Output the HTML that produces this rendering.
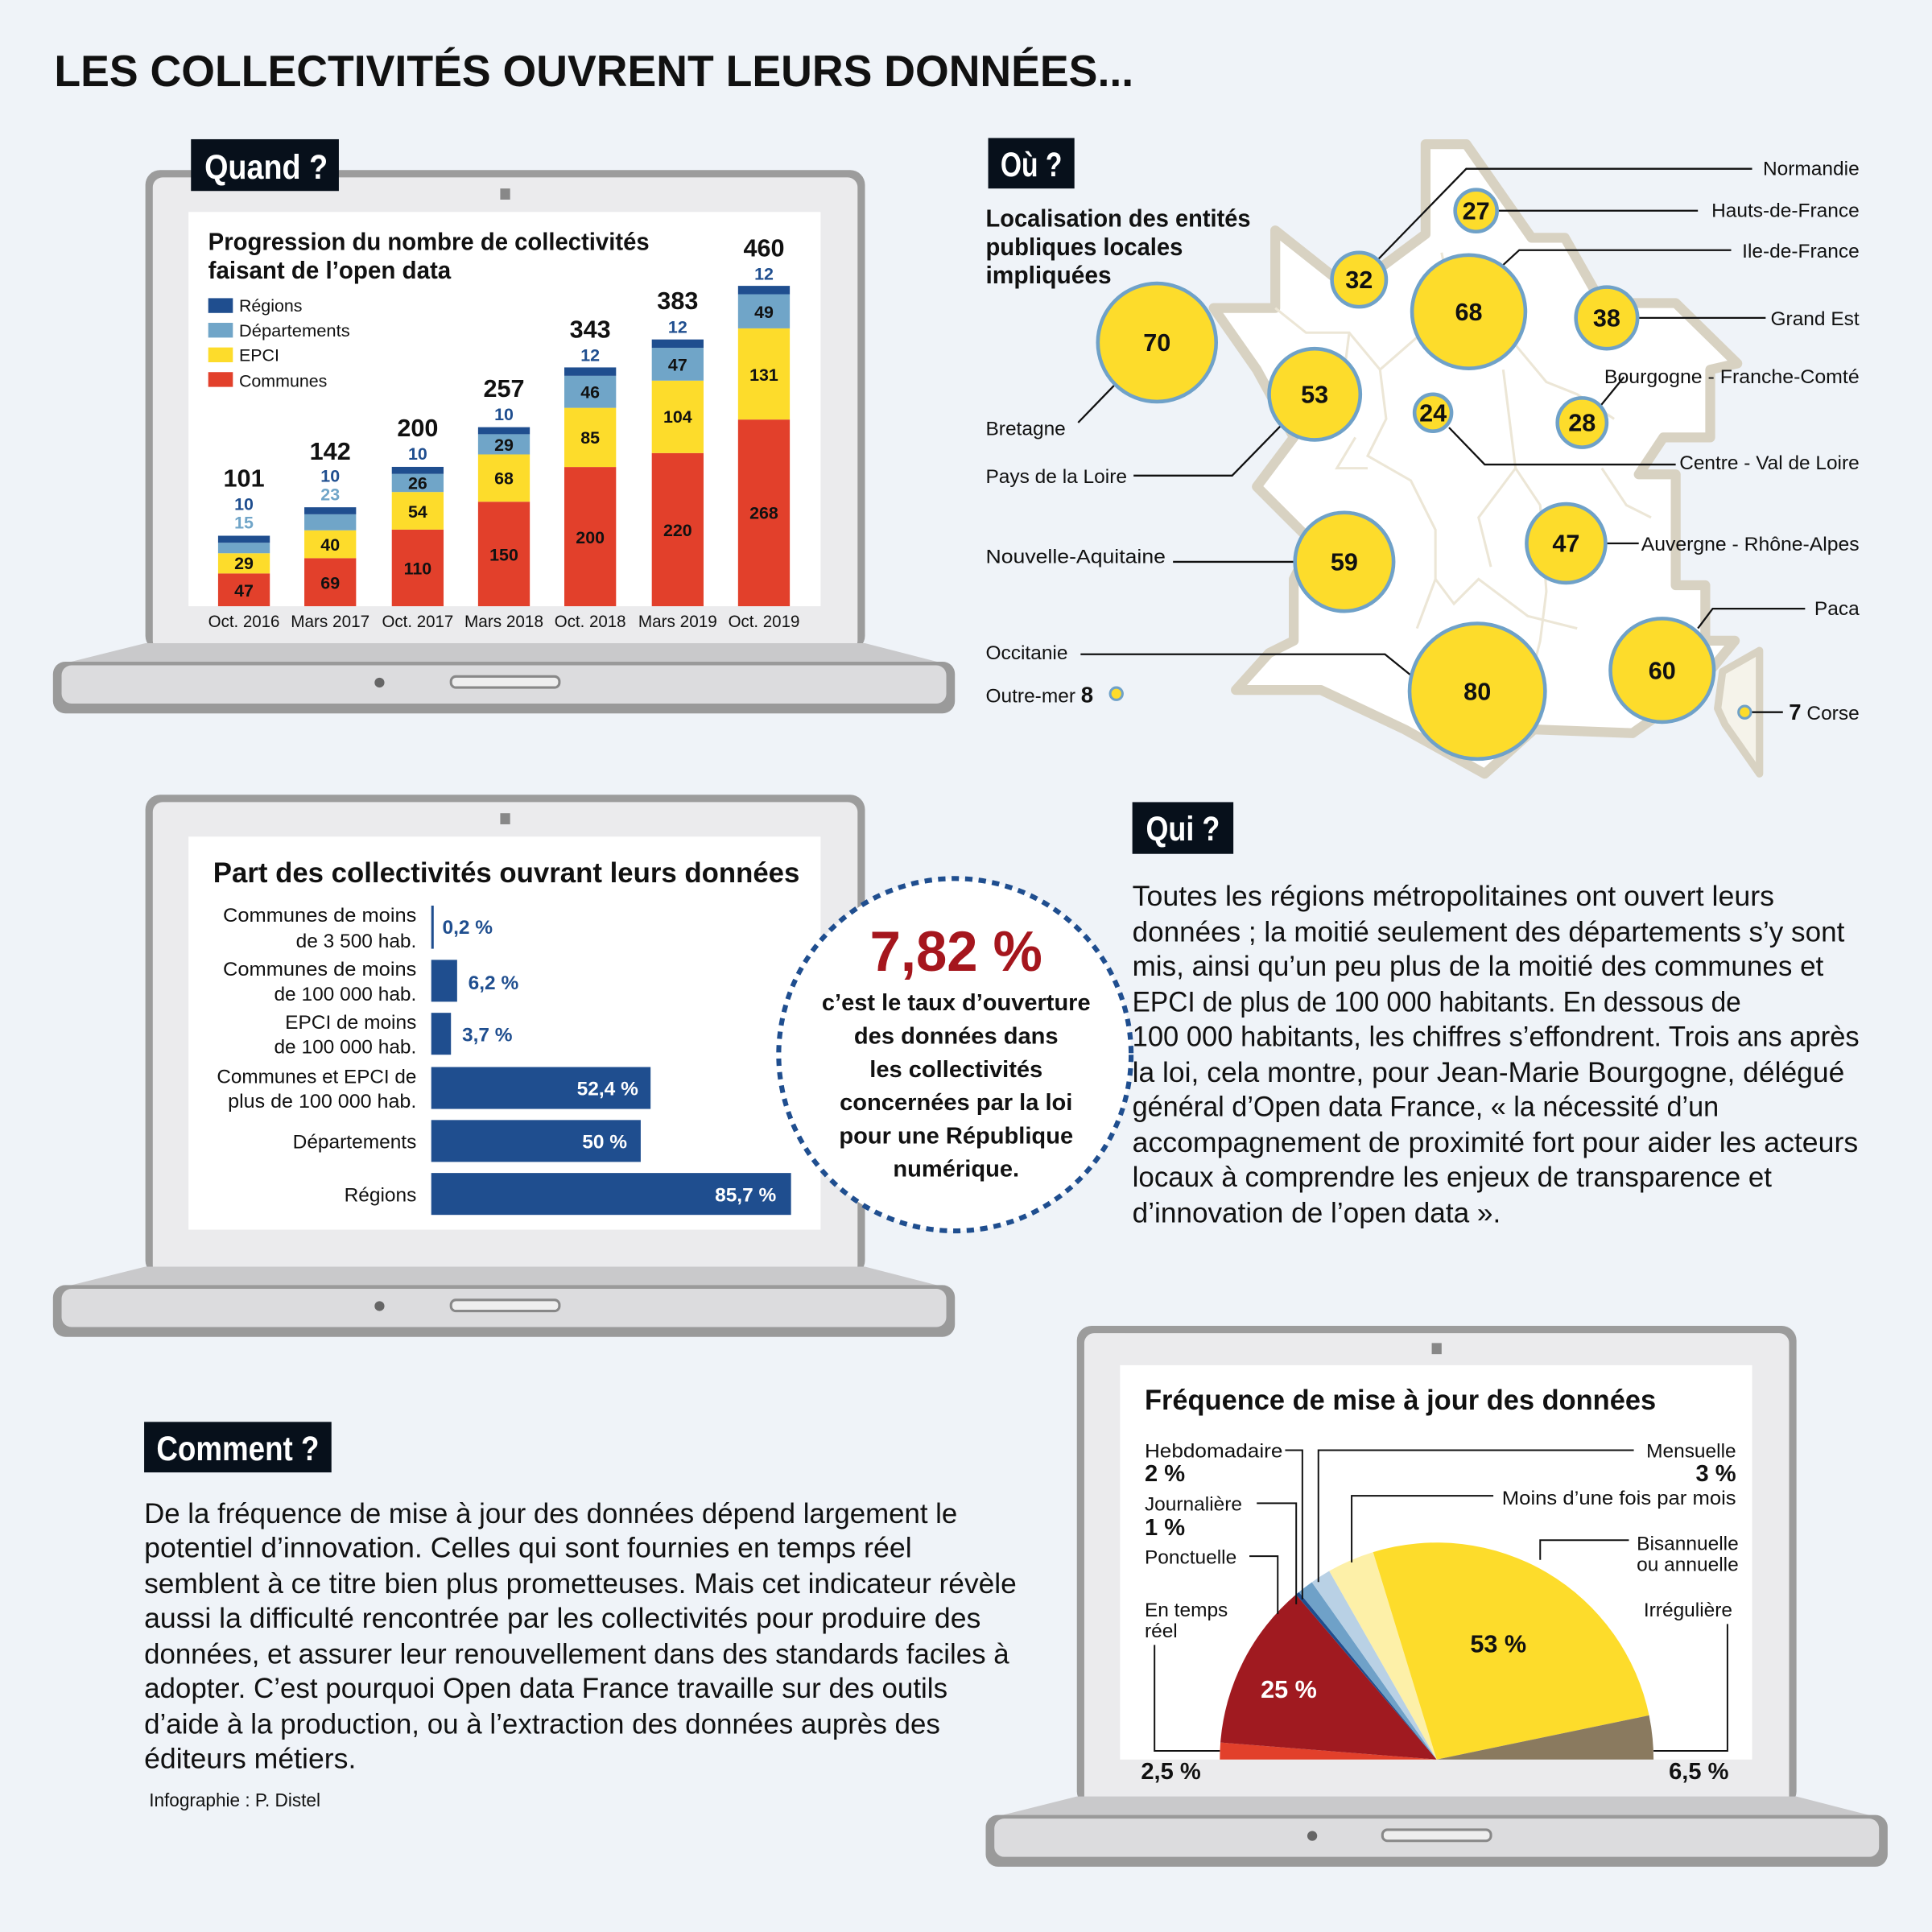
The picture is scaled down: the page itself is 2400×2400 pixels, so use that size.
<!DOCTYPE html>
<html><head><meta charset="utf-8"><style>
html,body{margin:0;padding:0;background:#eff3f8;}
svg{display:block;}
text{font-family:"Liberation Sans Narrow","Liberation Sans",sans-serif;}
.b{font-weight:bold;}
</style></head><body>
<svg width="2400" height="2400" viewBox="0 0 1568 1568" xmlns="http://www.w3.org/2000/svg">
<rect width="1568" height="1568" fill="#eff3f8"/>
<text x="44" y="70" font-size="36" class="b" fill="#111" font-family="Liberation Sans" textLength="876" lengthAdjust="spacingAndGlyphs">LES COLLECTIVITÉS OUVRENT LEURS DONNÉES...</text>

<!-- Laptop 1 -->
<rect x="118" y="138" width="584" height="390" rx="12" fill="#9c9c9c"/>
<rect x="124" y="144" width="572" height="384" rx="8" fill="#ebebed"/>
<rect x="406" y="153" width="8" height="9" fill="#888"/>
<rect x="153" y="172" width="513" height="320" fill="#fff"/>
<polygon points="118,522 702,522 772,540 46,540" fill="#c9c9cb"/>
<rect x="43" y="537" width="732" height="42" rx="10" fill="#9a9a9a"/>
<rect x="50" y="540" width="718" height="31" rx="8" fill="#dcdcde"/>
<circle cx="308" cy="554" r="4" fill="#666"/>
<rect x="366" y="549" width="88" height="9" rx="4" fill="#eee" stroke="#888" stroke-width="2"/>
<rect x="155" y="113" width="120" height="42" fill="#07101b"/>
<text x="166" y="145" font-size="28" class="b" fill="#fff" textLength="100" lengthAdjust="spacingAndGlyphs">Quand ?</text>

<text x="169" y="203" font-size="20" class="b" fill="#111" textLength="358" lengthAdjust="spacingAndGlyphs">Progression du nombre de collectivités</text>
<text x="169" y="226" font-size="20" class="b" fill="#111" textLength="197" lengthAdjust="spacingAndGlyphs">faisant de l’open data</text>
<g font-size="14" fill="#111">
<rect x="169" y="242" width="20" height="12" fill="#1f4e8f"/><text x="194" y="253">Régions</text>
<rect x="169" y="262" width="20" height="12" fill="#70a5c8"/><text x="194" y="273" textLength="90" lengthAdjust="spacingAndGlyphs">Départements</text>
<rect x="169" y="282" width="20" height="12" fill="#fddc2b"/><text x="194" y="293">EPCI</text>
<rect x="169" y="302" width="20" height="12" fill="#e2402b"/><text x="194" y="314">Communes</text>
</g>
<g>
<rect x="177" y="465.4" width="42" height="26.6" fill="#e2402b"/><rect x="177" y="449" width="42" height="16.4" fill="#fddc2b"/><rect x="177" y="440.5" width="42" height="8.5" fill="#70a5c8"/><rect x="177" y="434.8" width="42" height="5.7" fill="#1f4e8f"/>
<rect x="247" y="453" width="42" height="39" fill="#e2402b"/><rect x="247" y="430.4" width="42" height="22.6" fill="#fddc2b"/><rect x="247" y="417.4" width="42" height="13" fill="#70a5c8"/><rect x="247" y="411.7" width="42" height="5.7" fill="#1f4e8f"/>
<rect x="318" y="429.8" width="42" height="62.2" fill="#e2402b"/><rect x="318" y="399.3" width="42" height="30.5" fill="#fddc2b"/><rect x="318" y="384.6" width="42" height="14.7" fill="#70a5c8"/><rect x="318" y="378.9" width="42" height="5.7" fill="#1f4e8f"/>
<rect x="388" y="407.2" width="42" height="84.8" fill="#e2402b"/><rect x="388" y="368.8" width="42" height="38.4" fill="#fddc2b"/><rect x="388" y="352.4" width="42" height="16.4" fill="#70a5c8"/><rect x="388" y="346.7" width="42" height="5.7" fill="#1f4e8f"/>
<rect x="458" y="379" width="42" height="113" fill="#e2402b"/><rect x="458" y="331" width="42" height="48" fill="#fddc2b"/><rect x="458" y="305" width="42" height="26" fill="#70a5c8"/><rect x="458" y="298.2" width="42" height="6.8" fill="#1f4e8f"/>
<rect x="529" y="367.7" width="42" height="124.3" fill="#e2402b"/><rect x="529" y="308.9" width="42" height="58.8" fill="#fddc2b"/><rect x="529" y="282.3" width="42" height="26.6" fill="#70a5c8"/><rect x="529" y="275.5" width="42" height="6.8" fill="#1f4e8f"/>
<rect x="599" y="340.5" width="42" height="151.5" fill="#e2402b"/><rect x="599" y="266.5" width="42" height="74" fill="#fddc2b"/><rect x="599" y="238.8" width="42" height="27.7" fill="#70a5c8"/><rect x="599" y="232" width="42" height="6.8" fill="#1f4e8f"/>
</g>
<g font-size="14" class="b" text-anchor="middle" fill="#111">
<text x="198" y="484">47</text><text x="198" y="462">29</text>
<text x="268" y="478">69</text><text x="268" y="447">40</text>
<text x="339" y="466">110</text><text x="339" y="420">54</text><text x="339" y="397">26</text>
<text x="409" y="455">150</text><text x="409" y="393">68</text><text x="409" y="366">29</text>
<text x="479" y="441">200</text><text x="479" y="360">85</text><text x="479" y="323">46</text>
<text x="550" y="435">220</text><text x="550" y="343">104</text><text x="550" y="301">47</text>
<text x="620" y="421">268</text><text x="620" y="309">131</text><text x="620" y="258">49</text>
</g>
<g font-size="14" class="b" text-anchor="middle" fill="#1f4e8f">
<text x="198" y="414">10</text><text x="198" y="429" fill="#70a5c8">15</text>
<text x="268" y="391">10</text><text x="268" y="406" fill="#70a5c8">23</text>
<text x="339" y="373">10</text><text x="409" y="341">10</text><text x="479" y="293">12</text><text x="550" y="270">12</text><text x="620" y="227">12</text>
</g>
<g font-size="20" class="b" text-anchor="middle" fill="#111">
<text x="198" y="395">101</text><text x="268" y="373">142</text><text x="339" y="354">200</text><text x="409" y="322">257</text><text x="479" y="274">343</text><text x="550" y="251">383</text><text x="620" y="208">460</text>
</g>
<g font-size="14" text-anchor="middle" fill="#111">
<text x="198" y="509" textLength="58" lengthAdjust="spacingAndGlyphs">Oct. 2016</text><text x="268" y="509" textLength="64" lengthAdjust="spacingAndGlyphs">Mars 2017</text><text x="339" y="509" textLength="58" lengthAdjust="spacingAndGlyphs">Oct. 2017</text><text x="409" y="509" textLength="64" lengthAdjust="spacingAndGlyphs">Mars 2018</text><text x="479" y="509" textLength="58" lengthAdjust="spacingAndGlyphs">Oct. 2018</text><text x="550" y="509" textLength="64" lengthAdjust="spacingAndGlyphs">Mars 2019</text><text x="620" y="509" textLength="58" lengthAdjust="spacingAndGlyphs">Oct. 2019</text>
</g>

<!-- Map -->
<polygon points="1157,117 1190,117 1243,193 1270,193 1300,246 1360,246 1410,295 1388,300 1388,355 1350,355 1330,385 1360,385 1360,475 1384,475 1384,520 1408,520 1375,560 1325,595 1245,592 1205,628 1140,592 1072,560 1003,560 1030,530 1050,520 1050,470 1065,440 1020,395 1050,355 1020,300 985,250 1035,250 1035,187 1083,225 1110,225 1157,190" fill="#fff" stroke="#d8d2c2" stroke-width="8" stroke-linejoin="round"/>
<g fill="none" stroke="#ece6d6" stroke-width="2">
<path d="M1035,250 L1060,270 L1095,270 L1120,300 L1125,340 L1110,370 L1145,390 L1165,430 L1165,470 L1150,510"/>
<path d="M1120,300 L1160,265 L1175,230 L1170,205"/>
<path d="M1230,280 L1255,310 L1280,320 L1310,340"/>
<path d="M1220,300 L1230,380 L1250,410 L1255,480 L1250,520 L1240,560"/>
<path d="M1095,270 L1090,310 M1100,355 L1085,380 L1110,380 M1165,470 L1180,490 L1200,470 L1240,500 L1280,510"/>
<path d="M1230,380 L1200,420 L1210,460 M1300,380 L1320,410 L1340,420"/>
</g>
<polygon points="1398,545 1428,528 1428,628 1400,588 1394,575" fill="#f5f3ea" stroke="#d8d2c2" stroke-width="6" stroke-linejoin="round"/>

<g fill="none" stroke="#111" stroke-width="1.5">
<polyline points="1117,212 1190,137 1422,137"/>
<polyline points="1216,171 1378,171"/>
<polyline points="1220,215 1233,203 1405,203"/>
<polyline points="1330,258 1433,258"/>
<polyline points="1296,333 1318,306"/>
<polyline points="1176,347 1205,377 1360,377"/>
<polyline points="1303,441 1330,441"/>
<polyline points="1378,510 1390,494 1465,494"/>
<polyline points="1421,578 1447,578"/>
<polyline points="875,343 905,312"/>
<polyline points="920,386 1000,386 1040,345"/>
<polyline points="952,456 1050,456"/>
<polyline points="877,531 1124,531 1145,548"/>
</g>
<g fill="#fddc2b" stroke="#6fa1c8" stroke-width="3">
<circle cx="1198" cy="171" r="17"/><circle cx="1103" cy="227" r="22"/><circle cx="1192" cy="253" r="46"/><circle cx="1304" cy="258" r="25"/>
<circle cx="939" cy="278" r="48"/><circle cx="1067" cy="320" r="37"/><circle cx="1163" cy="335" r="15"/><circle cx="1284" cy="343" r="20"/>
<circle cx="1271" cy="441" r="32"/><circle cx="1091" cy="456" r="40"/><circle cx="1199" cy="561" r="55"/><circle cx="1349" cy="544" r="42"/>
<circle cx="906" cy="563" r="5" stroke-width="2"/><circle cx="1416" cy="578" r="5" stroke-width="2"/>
</g>
<g font-size="20" class="b" text-anchor="middle" fill="#111">
<text x="1198" y="178">27</text><text x="1103" y="234">32</text><text x="1192" y="260">68</text><text x="1304" y="265">38</text>
<text x="939" y="285">70</text><text x="1067" y="327">53</text><text x="1163" y="342">24</text><text x="1284" y="350">28</text>
<text x="1271" y="448">47</text><text x="1091" y="463">59</text><text x="1199" y="568">80</text><text x="1349" y="551">60</text>
</g>
<g font-size="16" fill="#111" text-anchor="end">
<text x="1509" y="142">Normandie</text><text x="1509" y="176">Hauts-de-France</text><text x="1509" y="209">Ile-de-France</text><text x="1509" y="264">Grand Est</text><text x="1509" y="311" textLength="207" lengthAdjust="spacingAndGlyphs">Bourgogne - Franche-Comté</text><text x="1509" y="381" textLength="146" lengthAdjust="spacingAndGlyphs">Centre - Val de Loire</text><text x="1509" y="447" textLength="177" lengthAdjust="spacingAndGlyphs">Auvergne - Rhône-Alpes</text><text x="1509" y="499">Paca</text>
<text x="1509" y="584"><tspan class="b" font-size="18">7</tspan> Corse</text>
</g>
<g font-size="16" fill="#111">
<text x="800" y="353">Bretagne</text><text x="800" y="392">Pays de la Loire</text><text x="800" y="457" textLength="146" lengthAdjust="spacingAndGlyphs">Nouvelle-Aquitaine</text><text x="800" y="535">Occitanie</text>
<text x="800" y="570">Outre-mer <tspan class="b" font-size="18">8</tspan></text>
</g>
<rect x="802" y="112" width="70" height="41" fill="#07101b"/>
<text x="812" y="143" font-size="28" class="b" fill="#fff" textLength="50" lengthAdjust="spacingAndGlyphs">Où ?</text>
<g font-size="20" class="b" fill="#111"><text x="800" y="184" textLength="215" lengthAdjust="spacingAndGlyphs">Localisation des entités</text><text x="800" y="207" textLength="160" lengthAdjust="spacingAndGlyphs">publiques locales</text><text x="800" y="230" textLength="102" lengthAdjust="spacingAndGlyphs">impliquées</text></g>

<!-- Laptop 2 -->
<rect x="118" y="645" width="584" height="390" rx="12" fill="#9c9c9c"/>
<rect x="124" y="651" width="572" height="384" rx="8" fill="#ebebed"/>
<rect x="406" y="660" width="8" height="9" fill="#888"/>
<rect x="153" y="679" width="513" height="319" fill="#fff"/>
<polygon points="118,1028 702,1028 772,1046 46,1046" fill="#c9c9cb"/>
<rect x="43" y="1043" width="732" height="42" rx="10" fill="#9a9a9a"/>
<rect x="50" y="1046" width="718" height="31" rx="8" fill="#dcdcde"/>
<circle cx="308" cy="1060" r="4" fill="#666"/>
<rect x="366" y="1055" width="88" height="9" rx="4" fill="#eee" stroke="#888" stroke-width="2"/>
<text x="173" y="716" font-size="23" class="b" fill="#111" textLength="476" lengthAdjust="spacingAndGlyphs">Part des collectivités ouvrant leurs données</text>
<g fill="#1f4e8f">
<rect x="350" y="735" width="2" height="35"/><rect x="350" y="779" width="21" height="34"/><rect x="350" y="822" width="16" height="34"/>
<rect x="350" y="866" width="178" height="34"/><rect x="350" y="909" width="170" height="34"/><rect x="350" y="952" width="292" height="34"/>
</g>
<g font-size="16" fill="#111" text-anchor="end">
<text x="338" y="748" textLength="157" lengthAdjust="spacingAndGlyphs">Communes de moins</text><text x="338" y="769">de 3 500 hab.</text>
<text x="338" y="792" textLength="157" lengthAdjust="spacingAndGlyphs">Communes de moins</text><text x="338" y="812">de 100 000 hab.</text>
<text x="338" y="835">EPCI de moins</text><text x="338" y="855">de 100 000 hab.</text>
<text x="338" y="879" textLength="162" lengthAdjust="spacingAndGlyphs">Communes et EPCI de</text><text x="338" y="899" textLength="153" lengthAdjust="spacingAndGlyphs">plus de 100 000 hab.</text>
<text x="338" y="932">Départements</text><text x="338" y="975">Régions</text>
</g>
<g font-size="16" class="b" fill="#1f4e8f">
<text x="359" y="758">0,2 %</text><text x="380" y="803">6,2 %</text><text x="375" y="845">3,7 %</text>
</g>
<g font-size="16" class="b" fill="#fff" text-anchor="end">
<text x="518" y="889">52,4 %</text><text x="509" y="932">50 %</text><text x="630" y="975">85,7 %</text>
</g>
<circle cx="775" cy="856" r="143" fill="#fff" stroke="#1f4e8f" stroke-width="4" stroke-dasharray="6 5"/>
<text x="776" y="788" font-size="46" class="b" fill="#a5161d" text-anchor="middle" textLength="140" lengthAdjust="spacingAndGlyphs">7,82 %</text>
<g font-size="19" class="b" fill="#111" text-anchor="middle">
<text x="776" y="820" textLength="218" lengthAdjust="spacingAndGlyphs">c’est le taux d’ouverture</text><text x="776" y="847">des données dans</text><text x="776" y="874">les collectivités</text><text x="776" y="901">concernées par la loi</text><text x="776" y="928">pour une République</text><text x="776" y="955">numérique.</text>
</g>

<!-- Qui -->
<rect x="919" y="651" width="82" height="42" fill="#07101b"/>
<text x="930" y="682" font-size="28" class="b" fill="#fff" textLength="60" lengthAdjust="spacingAndGlyphs">Qui ?</text>
<g font-size="23" fill="#111" lengthAdjust="spacingAndGlyphs">
<text x="919" y="735" textLength="521" lengthAdjust="spacingAndGlyphs">Toutes les régions métropolitaines ont ouvert leurs</text>
<text x="919" y="764" textLength="578" lengthAdjust="spacingAndGlyphs">données ; la moitié seulement des départements s’y sont</text>
<text x="919" y="792" textLength="561" lengthAdjust="spacingAndGlyphs">mis, ainsi qu’un peu plus de la moitié des communes et</text>
<text x="919" y="821" textLength="494" lengthAdjust="spacingAndGlyphs">EPCI de plus de 100 000 habitants. En dessous de</text>
<text x="919" y="849" textLength="590" lengthAdjust="spacingAndGlyphs">100 000 habitants, les chiffres s’effondrent. Trois ans après</text>
<text x="919" y="878" textLength="578" lengthAdjust="spacingAndGlyphs">la loi, cela montre, pour Jean-Marie Bourgogne, délégué</text>
<text x="919" y="906" textLength="476" lengthAdjust="spacingAndGlyphs">général d’Open data France, « la nécessité d’un</text>
<text x="919" y="935" textLength="589" lengthAdjust="spacingAndGlyphs">accompagnement de proximité fort pour aider les acteurs</text>
<text x="919" y="963" textLength="519" lengthAdjust="spacingAndGlyphs">locaux à comprendre les enjeux de transparence et</text>
<text x="919" y="992" textLength="299" lengthAdjust="spacingAndGlyphs">d’innovation de l’open data ».</text>
</g>

<!-- Comment -->
<rect x="117" y="1154" width="152" height="41" fill="#07101b"/>
<text x="127" y="1185" font-size="28" class="b" fill="#fff" textLength="132" lengthAdjust="spacingAndGlyphs">Comment ?</text>
<g font-size="23" fill="#111">
<text x="117" y="1236" textLength="660" lengthAdjust="spacingAndGlyphs">De la fréquence de mise à jour des données dépend largement le</text>
<text x="117" y="1264" textLength="623" lengthAdjust="spacingAndGlyphs">potentiel d’innovation. Celles qui sont fournies en temps réel</text>
<text x="117" y="1293" textLength="708" lengthAdjust="spacingAndGlyphs">semblent à ce titre bien plus prometteuses. Mais cet indicateur révèle</text>
<text x="117" y="1321" textLength="679" lengthAdjust="spacingAndGlyphs">aussi la difficulté rencontrée par les collectivités pour produire des</text>
<text x="117" y="1350" textLength="702" lengthAdjust="spacingAndGlyphs">données, et assurer leur renouvellement dans des standards faciles à</text>
<text x="117" y="1378" textLength="652" lengthAdjust="spacingAndGlyphs">adopter. C’est pourquoi Open data France travaille sur des outils</text>
<text x="117" y="1407" textLength="646" lengthAdjust="spacingAndGlyphs">d’aide à la production, ou à l’extraction des données auprès des</text>
<text x="117" y="1435" textLength="172" lengthAdjust="spacingAndGlyphs">éditeurs métiers.</text>
</g>
<text x="121" y="1466" font-size="15" fill="#111" textLength="139" lengthAdjust="spacingAndGlyphs">Infographie : P. Distel</text>

<!-- Laptop 3 -->
<rect x="874" y="1076" width="584" height="390" rx="12" fill="#9c9c9c"/>
<rect x="880" y="1082" width="572" height="384" rx="8" fill="#ebebed"/>
<rect x="1162" y="1090" width="8" height="9" fill="#888"/>
<rect x="909" y="1108" width="513" height="320" fill="#fff"/>
<polygon points="874,1458 1458,1458 1528,1476 802,1476" fill="#c9c9cb"/>
<rect x="800" y="1473" width="732" height="42" rx="10" fill="#9a9a9a"/>
<rect x="807" y="1476" width="718" height="31" rx="8" fill="#dcdcde"/>
<circle cx="1065" cy="1490" r="4" fill="#666"/>
<rect x="1122" y="1485" width="88" height="9" rx="4" fill="#eee" stroke="#888" stroke-width="2"/>
<text x="929" y="1144" font-size="23" class="b" fill="#111" textLength="415" lengthAdjust="spacingAndGlyphs">Fréquence de mise à jour des données</text>
<g>
<path d="M1166,1428 L990,1428 A176,176 0 0 1 990.5,1414.2 Z" fill="#e2402b"/>
<path d="M1166,1428 L990.5,1414.2 A176,176 0 0 1 1051.8,1294.1 Z" fill="#a01a20"/>
<path d="M1166,1428 L1051.8,1294.1 A176,176 0 0 1 1054.2,1292.1 Z" fill="#1f4e8f"/>
<path d="M1166,1428 L1054.2,1292.1 A176,176 0 0 1 1064.7,1284.1 Z" fill="#6fa1c8"/>
<path d="M1166,1428 L1064.7,1284.1 A176,176 0 0 1 1078.8,1275.0 Z" fill="#b9d1e5"/>
<path d="M1166,1428 L1078.8,1275.0 A176,176 0 0 1 1114.4,1259.7 Z" fill="#fdf0a8"/>
<path d="M1166,1428 L1114.4,1259.7 A176,176 0 0 1 1338.4,1392.2 Z" fill="#fddc2b"/>
<path d="M1166,1428 L1338.4,1392.2 A176,176 0 0 1 1342,1428 Z" fill="#8a7a5f"/>
</g>
<text x="1046" y="1378" font-size="20" class="b" fill="#fff" text-anchor="middle">25 %</text>
<text x="1216" y="1341" font-size="20" class="b" fill="#111" text-anchor="middle">53 %</text>
<g fill="none" stroke="#111" stroke-width="1.3">
<polyline points="1043,1177 1057,1177 1057,1298"/>
<polyline points="1020,1220 1052,1220 1052,1302"/>
<polyline points="1014,1263 1037,1263 1037,1310"/>
<polyline points="937,1335 937,1421 990,1421"/>
<polyline points="1326,1177 1070,1177 1070,1284"/>
<polyline points="1212,1214 1097,1214 1097,1268"/>
<polyline points="1322,1250 1250,1250 1250,1266"/>
<polyline points="1402,1318 1402,1421 1342,1421"/>
</g>
<g font-size="16" fill="#111">
<text x="929" y="1183" textLength="112" lengthAdjust="spacingAndGlyphs">Hebdomadaire</text><text x="929" y="1202" class="b" font-size="19">2 %</text>
<text x="929" y="1226">Journalière</text><text x="929" y="1246" class="b" font-size="19">1 %</text>
<text x="929" y="1269">Ponctuelle</text>
<text x="929" y="1312">En temps</text><text x="929" y="1329">réel</text>
<text x="926" y="1444" class="b" font-size="19">2,5 %</text>
</g>
<g font-size="16" fill="#111" text-anchor="end">
<text x="1409" y="1183">Mensuelle</text><text x="1409" y="1202" class="b" font-size="19">3 %</text>
<text x="1409" y="1221" textLength="190" lengthAdjust="spacingAndGlyphs">Moins d’une fois par mois</text>
<text x="1411" y="1258">Bisannuelle</text><text x="1411" y="1275">ou annuelle</text>
<text x="1406" y="1312">Irrégulière</text>
<text x="1403" y="1444" class="b" font-size="19">6,5 %</text>
</g>
</svg>
</body></html>
